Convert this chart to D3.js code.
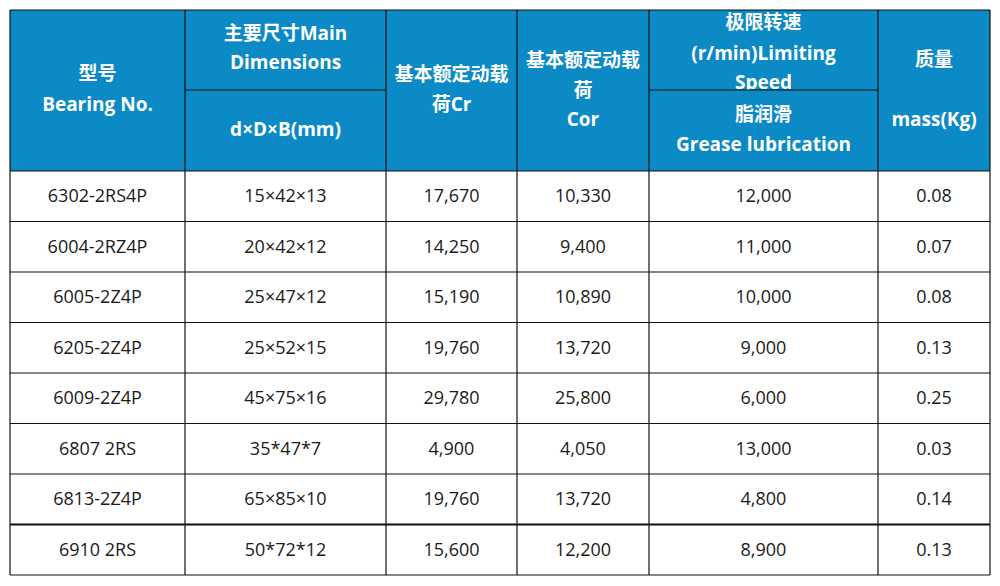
<!DOCTYPE html><html><head><meta charset="utf-8"><script src="https://d3js.org/d3.v7.min.js"></script>
<style>body{margin:0;background:#fff}</style></head><body><svg id="c" width="1000" height="586"></svg>
<script>
const models=["6302-2RS4P","6004-2RZ4P","6005-2Z4P","6205-2Z4P","6009-2Z4P","6807 2RS","6813-2Z4P","6910 2RS"];
const dims=["15×42×13","20×42×12","25×47×12","25×52×15","45×75×16","35*47*7","65×85×10","50*72*12"];
const cr=[17670,14250,15190,19760,29780,4900,19760,15600];
const cor=[10330,9400,10890,13720,25800,4050,13720,12200];
const speed=[12000,11000,10000,9000,6000,13000,4800,8900];
const mass=["0.08","0.07","0.08","0.13","0.25","0.03","0.14","0.13"];
const colEdges=[10,185,386,517,649,878,990];
const svg=d3.select("#c");
const font="'Open Sans','Noto Sans CJK SC',sans-serif";
const blue="#0b8ac5";
const hTop=10,hMid=90,hBot=171,tBot=575;
const y=d3.scaleBand().domain(d3.range(models.length)).range([hBot,tBot]);
// header background
svg.append("rect").attr("x",10).attr("y",hTop).attr("width",980).attr("height",hBot-hTop).attr("fill",blue);
const defs=svg.append("defs");
defs.append("clipPath").attr("id","cl5").append("rect").attr("x",649).attr("y",hTop).attr("width",229).attr("height",hMid-hTop);
const cx=i=>(colEdges[i]+colEdges[i+1])/2;
const H=[
 [0,["型号",75],["Bearing No.",106]],
 [1,["主要尺寸Main",35],["Dimensions",64]],
 [1,["d×D×B(mm)",131]],
 [2,["基本额定动载",76],["荷Cr",106]],
 [3,["基本额定动载",62],["荷",92],["Cor",121]],
 [5,["质量",61],["mass(Kg)",121]],
 [4,["脂润滑",116],["Grease lubrication",146]]
];
H.forEach(h=>{h.slice(1).forEach(([t,yy])=>svg.append("text").attr("x",cx(h[0])).attr("y",yy).attr("text-anchor","middle").attr("dominant-baseline","middle").attr("fill","#fff").attr("font-family",font).attr("font-weight","bold").attr("font-size",19).text(t));});
const g5=svg.append("g").attr("clip-path","url(#cl5)");
[["极限转速",24],["(r/min)Limiting",55],["Speed",84]].forEach(([t,yy])=>g5.append("text").attr("x",cx(4)).attr("y",yy).attr("text-anchor","middle").attr("dominant-baseline","middle").attr("fill","#fff").attr("font-family",font).attr("font-weight","bold").attr("font-size",19).text(t));
// body
const fmt=d3.format(",");
const cols=[models,dims,cr.map(fmt),cor.map(fmt),speed.map(fmt),mass];
cols.forEach((arr,ci)=>arr.forEach((v,ri)=>svg.append("text").attr("x",cx(ci)).attr("y",y(ri)+y.bandwidth()/2+1).attr("text-anchor","middle").attr("dominant-baseline","middle").attr("fill","#1a1a1a").attr("font-family",font).attr("font-size",18).text(v)));
// lines
const L=(x1,y1,x2,y2,w)=>svg.append("line").attr("x1",x1).attr("y1",y1).attr("x2",x2).attr("y2",y2).attr("stroke","#111").attr("stroke-width",w||1.2);
colEdges.forEach(x=>L(x,hTop,x,tBot));
L(10,hTop,990,hTop);
L(185,hMid,386,hMid);L(649,hMid,878,hMid);
d3.range(models.length+1).forEach(i=>{const yy=i<models.length?y(i):tBot;L(10,yy,990,yy,i===7?2:1.2);});
</script></body></html>
